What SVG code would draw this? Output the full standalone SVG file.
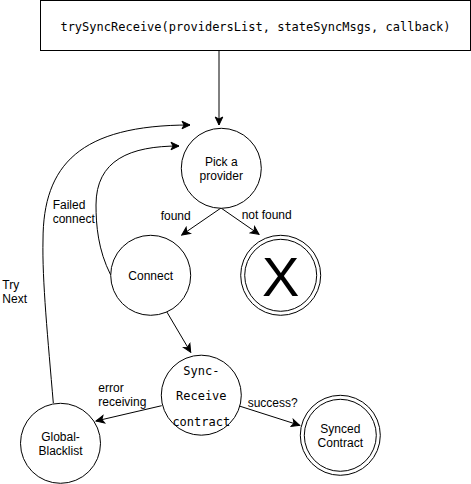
<svg xmlns="http://www.w3.org/2000/svg" width="471" height="484" viewBox="0 0 471 484">
<style>
.node{fill:#fff;stroke:#000;stroke-width:1}
.edge{fill:none;stroke:#000;stroke-width:1}
.t{font-family:"Liberation Sans",Arial,sans-serif;font-size:12px;fill:#000}
.m{font-family:"DejaVu Sans Mono","Liberation Mono",monospace;font-size:12px;fill:#000}
.c{text-anchor:middle}
</style>
<defs>
<marker id="arr" markerUnits="userSpaceOnUse" markerWidth="10" markerHeight="10" viewBox="0 0 10 10" refX="9" refY="5" orient="auto">
<path d="M1,1.2 L9,5 L1,8.8 L3,5 Z" fill="#000" stroke="#000" stroke-width="1"/>
</marker>
</defs>
<rect width="471" height="484" fill="#fff"/>
<g id="connectors">
<path class="edge" d="M219 51 V125" marker-end="url(#arr)"/>
<path class="edge" d="M221 208 L181.7 235" marker-end="url(#arr)"/>
<path class="edge" d="M221 208 L259 234.3" marker-end="url(#arr)"/>
<path class="edge" d="M166.7 311.7 L190.7 352.3" marker-end="url(#arr)"/>
<path class="edge" d="M161.7 405.7 L96 421" marker-end="url(#arr)"/>
<path class="edge" d="M238.3 405.7 L299.7 425.3" marker-end="url(#arr)"/>
<path class="edge" d="M53.3 403 C48 340 42 280 43 240 C43 165 80 125 190 125" marker-end="url(#arr)"/>
<path class="edge" d="M110.7 275 C98 250 96 225 96 205 C96 160 130 146 179 146" marker-end="url(#arr)"/>
<text class="t c" x="175.7" y="220">found</text>
<text class="t c" x="266.7" y="219">not found</text>
<text class="t" x="52.7" y="209">Failed</text>
<text class="t" x="52.7" y="223">connect</text>
<text class="t" x="2.3" y="289">Try</text>
<text class="t" x="2.3" y="303">Next</text>
<text class="t" x="98.3" y="392">error</text>
<text class="t" x="98.3" y="406">receiving</text>
<text class="t c" x="272.7" y="407">success?</text>
</g>
<g id="start">
<rect class="node" x="40.5" y="0.5" width="430" height="50"/>
<text class="m c" x="255.5" y="30.5">trySyncReceive(providersList, stateSyncMsgs, callback)</text>
</g>
<g id="pick">
<circle class="node" cx="221.3" cy="168.3" r="40"/>
<text class="t c" x="221.3" y="166">Pick a</text>
<text class="t c" x="221.3" y="180">provider</text>
</g>
<g id="connect">
<circle class="node" cx="150.7" cy="275.3" r="40"/>
<text class="t c" x="150.7" y="280">Connect</text>
</g>
<g id="notfound">
<circle class="node" cx="280.7" cy="275.3" r="40"/>
<circle class="node" cx="280.7" cy="275.3" r="36"/>
<text class="t c" x="280.7" y="296" style="font-size:56px">X</text>
</g>
<g id="sync">
<circle class="node" cx="201.3" cy="395.2" r="40"/>
<text class="m c" x="201.3" y="374.5">Sync-</text>
<text class="m c" x="201.3" y="400">Receive</text>
<text class="m c" x="201.3" y="426">contract</text>
</g>
<g id="blacklist">
<circle class="node" cx="60.5" cy="443.3" r="40"/>
<text class="t c" x="60.5" y="441">Global-</text>
<text class="t c" x="60.5" y="455">Blacklist</text>
</g>
<g id="synced">
<circle class="node" cx="340.3" cy="435.3" r="40"/>
<circle class="node" cx="340.3" cy="435.3" r="36"/>
<text class="t c" x="340.3" y="433">Synced</text>
<text class="t c" x="340.3" y="447">Contract</text>
</g>
</svg>
